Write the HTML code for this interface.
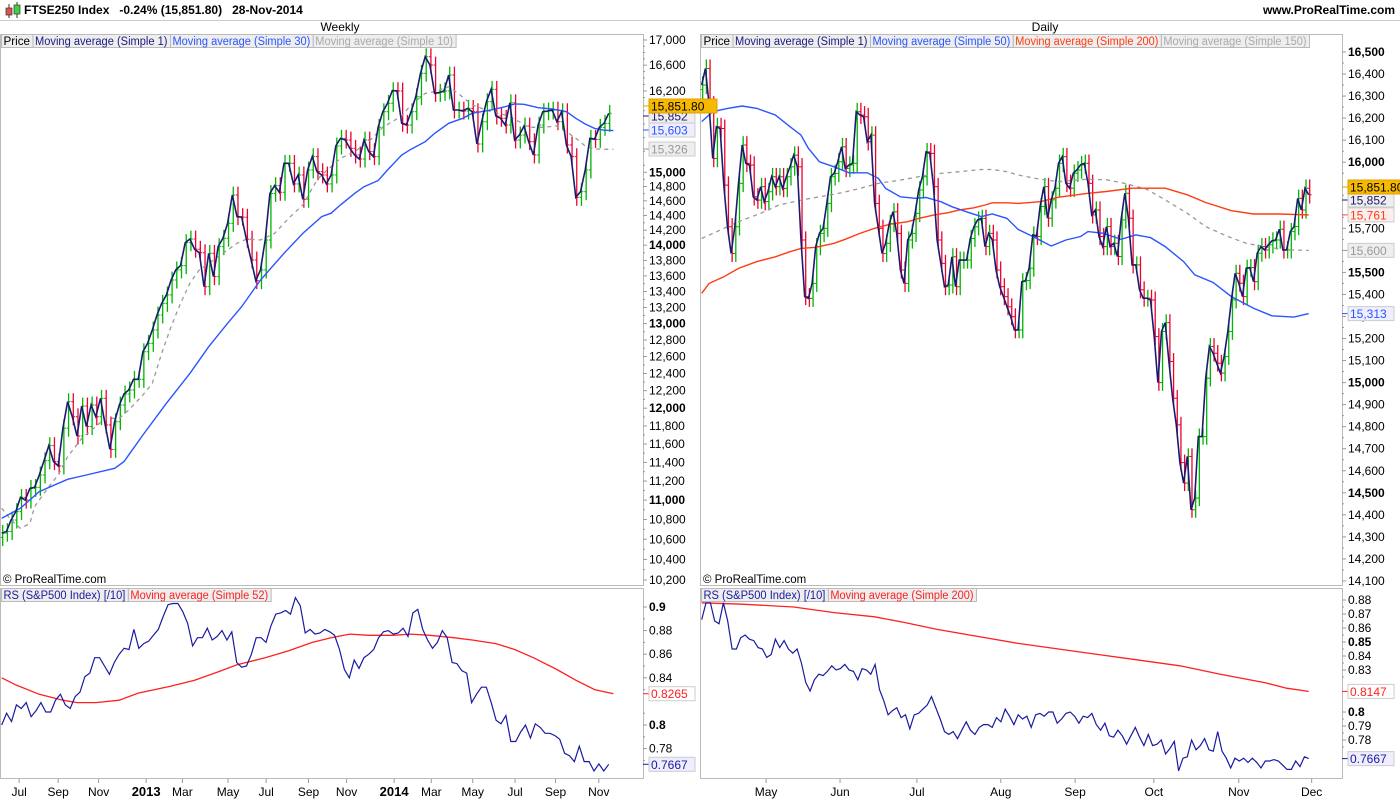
<!DOCTYPE html>
<html><head><meta charset="utf-8"><style>
html,body{margin:0;padding:0;background:#fff;}
body{width:1400px;height:800px;overflow:hidden;font-family:"Liberation Sans",Arial,sans-serif;}
svg text{font-family:"Liberation Sans",Arial,sans-serif;}
</style></head><body>
<svg id="c" width="1400" height="800" xmlns="http://www.w3.org/2000/svg">
<rect x="0" y="0" width="1400" height="800" fill="#fff"/>
<g>
<line x1="9" y1="4" x2="9" y2="18" stroke="#333" stroke-width="1"/><rect x="6" y="8" width="6" height="7" fill="#e05050" stroke="#333" stroke-width="0.7"/>
<line x1="17" y1="2" x2="17" y2="18" stroke="#333" stroke-width="1"/><rect x="14" y="5" width="6" height="9" fill="#40d040" stroke="#333" stroke-width="0.7"/>
<text x="24" y="14" font-size="12" font-weight="bold" fill="#000">FTSE250 Index&#160;&#160;&#160;-0.24% (15,851.80)&#160;&#160;&#160;28-Nov-2014</text>
<text x="1395" y="14" font-size="12" font-weight="bold" text-anchor="end" fill="#000">www.ProRealTime.com</text>
<line x1="0" y1="20.5" x2="1400" y2="20.5" stroke="#ccc"/>
<text x="340" y="31" font-size="12" text-anchor="middle" fill="#000">Weekly</text>
<text x="1045" y="31" font-size="12" text-anchor="middle" fill="#000">Daily</text>
</g>
</svg>
<script>
// ===== Weekly data =====
const weeklyClose=[10661,10678,10795,10881,11029,11001,11123,11134,11265,11418,11582,11408,11361,11775,12074,11903,11688,12024,11793,12036,11903,12112,11811,11541,11847,12036,12162,12208,12332,12332,12658,12759,12921,13106,13251,13357,13547,13677,13733,14034,14082,13947,13901,13461,13893,13590,13981,14092,14293,14681,14384,14376,14080,13806,13539,13677,14069,14703,14812,14719,15128,15128,14836,14962,14622,15033,15224,15009,14962,14836,14962,15378,15490,15465,15344,15248,15190,15465,15296,15224,15652,15885,16012,16205,16200,15711,15686,15885,16113,16473,16733,16602,16163,16178,16200,16446,15910,15910,15895,15935,15885,15407,15735,16036,16225,15820,15786,15686,16020,15465,15538,15672,15441,15248,15686,15885,15895,15910,15735,15885,15393,15224,14649,14727,15033,15490,15475,15652,15711,15861];
const weeklyMa30=[[0,10814],[4,10916],[8,11089],[14,11219],[18,11265],[24,11336],[26,11408],[30,11699],[35,12055],[40,12401],[44,12719],[48,13003],[51,13210],[55,13547],[60,13893],[64,14157],[68,14384],[70,14430],[72,14544],[75,14703],[77,14797],[80,14882],[82,15033],[85,15248],[87,15331],[90,15441],[92,15563],[95,15711],[98,15786],[100,15861],[104,15910],[107,15961],[109,16002],[111,15997],[114,15946],[117,15925],[120,15885],[122,15786],[124,15701],[126,15636],[128,15610],[130,15603]];
const weeklyMa10=[[0,10916],[2,10795],[4,10710],[6,10761],[7,10933],[10,11140],[12,11265],[14,11461],[17,11662],[20,11793],[22,11885],[25,11885],[27,11979],[30,12150],[32,12286],[34,12640],[36,12963],[38,13251],[40,13505],[42,13677],[45,13806],[50,14025],[52,14080],[55,14069],[58,14157],[61,14362],[64,14544],[67,14891],[68,14962],[70,15081],[72,15200],[75,15296],[78,15441],[81,15652],[85,15820],[87,15987],[90,16163],[92,16189],[94,16240],[95,16266],[97,16163],[100,15987],[102,15935],[104,15885],[107,15835],[110,15735],[112,15652],[115,15652],[118,15672],[120,15589],[122,15490],[124,15378],[126,15334],[130,15329]];
const weeklyRS=[0.800,0.810,0.803,0.817,0.814,0.819,0.807,0.812,0.819,0.811,0.811,0.821,0.826,0.817,0.814,0.824,0.828,0.841,0.844,0.857,0.857,0.850,0.843,0.853,0.860,0.865,0.864,0.881,0.865,0.869,0.871,0.876,0.881,0.892,0.902,0.903,0.903,0.896,0.886,0.867,0.874,0.874,0.882,0.872,0.875,0.880,0.872,0.879,0.853,0.849,0.850,0.860,0.874,0.874,0.870,0.884,0.894,0.895,0.897,0.894,0.908,0.901,0.878,0.881,0.877,0.878,0.881,0.879,0.876,0.864,0.847,0.840,0.855,0.848,0.857,0.860,0.864,0.874,0.879,0.880,0.877,0.878,0.882,0.875,0.895,0.898,0.881,0.872,0.865,0.870,0.880,0.874,0.853,0.852,0.846,0.844,0.819,0.826,0.832,0.832,0.819,0.804,0.801,0.808,0.786,0.786,0.794,0.800,0.789,0.801,0.798,0.793,0.793,0.791,0.788,0.776,0.774,0.769,0.782,0.769,0.769,0.761,0.767,0.761,0.7667];
const weeklyRSMa=[[0,0.840],[3,0.834],[8,0.826],[13,0.821],[16,0.819],[20,0.819],[25,0.821],[29,0.827],[36,0.833],[41,0.838],[46,0.845],[50,0.851],[56,0.857],[61,0.863],[66,0.870],[70,0.874],[74,0.877],[78,0.876],[83,0.876],[87,0.877],[91,0.876],[96,0.874],[100,0.872],[105,0.869],[109,0.864],[113,0.857],[118,0.847],[122,0.838],[126,0.830],[130,0.8265]];
const weeklyTickLabels=["Jul","Sep","Nov","2013","Mar","May","Jul","Sep","Nov","2014","Mar","May","Jul","Sep","Nov"];
const weeklyTickIdx=[3.7,12,20.6,30.7,38.4,48.1,56.2,65.2,73.3,83.4,91.3,100.1,109.1,117.7,126.9];
// ===== Daily data =====
const dailyClose=[16350,16425,16259,16017,16161,16153,15896,15707,15586,15707,15904,16078,15995,15987,15843,15828,15889,15821,15866,15934,15889,15934,15881,15934,15979,16032,15979,15647,15390,15382,15450,15617,15677,15700,15813,15934,15949,16002,16070,15972,15987,15995,16229,16214,16206,16093,16123,15813,15700,15586,15632,15722,15775,15677,15511,15450,15647,15677,15768,15874,15934,16047,16040,15889,15647,15541,15435,15443,15571,15435,15556,15556,15556,15654,15707,15738,15745,15617,15677,15647,15511,15435,15390,15344,15299,15239,15239,15458,15463,15519,15670,15663,15799,15889,15746,15829,15882,15995,16025,15904,15882,15950,15965,15988,15995,15904,15761,15783,15663,15617,15708,15617,15632,15572,15738,15859,15746,15534,15534,15421,15383,15383,15375,15209,15000,15232,15272,15096,14929,14808,14637,14544,14665,14423,14476,14755,14755,15020,15164,15133,15088,15043,15118,15232,15375,15496,15451,15390,15519,15522,15458,15587,15617,15602,15625,15643,15647,15696,15602,15602,15685,15708,15836,15783,15882,15852];
const dailyMa50=[[0,16184],[3,16229],[7,16244],[11,16255],[15,16244],[20,16214],[24,16161],[27,16123],[29,16063],[32,16002],[36,15979],[40,15952],[45,15952],[48,15927],[50,15881],[54,15843],[58,15836],[61,15840],[65,15821],[68,15798],[72,15775],[76,15753],[79,15765],[83,15745],[86,15695],[90,15663],[95,15620],[99,15647],[103,15663],[105,15685],[109,15678],[114,15650],[118,15670],[122,15658],[126,15617],[131,15549],[134,15489],[139,15454],[144,15390],[150,15337],[155,15303],[161,15297],[165,15313]];
const dailyMa200=[[0,15405],[2,15450],[6,15480],[10,15518],[15,15549],[20,15571],[24,15594],[27,15609],[31,15614],[36,15632],[39,15650],[43,15677],[47,15700],[51,15718],[56,15730],[59,15745],[63,15760],[67,15771],[70,15783],[74,15793],[77,15806],[79,15816],[83,15816],[86,15813],[92,15821],[97,15841],[105,15859],[110,15867],[117,15882],[126,15882],[132,15852],[137,15817],[144,15780],[150,15765],[157,15765],[165,15761]];
const dailyMa150=[[0,15654],[5,15692],[10,15730],[16,15768],[21,15806],[27,15828],[32,15843],[38,15861],[43,15881],[48,15904],[54,15919],[59,15934],[65,15949],[70,15957],[76,15967],[79,15967],[83,15957],[86,15942],[92,15923],[97,15912],[105,15923],[110,15920],[115,15904],[121,15877],[126,15829],[132,15768],[137,15708],[143,15663],[148,15632],[154,15614],[159,15602],[165,15600]];
const dailyRS=[0.866,0.878,0.878,0.865,0.863,0.878,0.865,0.845,0.845,0.853,0.855,0.852,0.851,0.846,0.845,0.839,0.841,0.852,0.846,0.851,0.845,0.842,0.845,0.835,0.821,0.815,0.823,0.827,0.826,0.829,0.833,0.830,0.831,0.834,0.830,0.829,0.823,0.831,0.830,0.827,0.834,0.816,0.808,0.798,0.801,0.803,0.796,0.798,0.788,0.798,0.799,0.802,0.805,0.811,0.803,0.795,0.786,0.784,0.786,0.781,0.787,0.793,0.787,0.784,0.789,0.791,0.791,0.789,0.796,0.793,0.802,0.797,0.791,0.798,0.795,0.797,0.789,0.798,0.799,0.797,0.800,0.800,0.792,0.795,0.799,0.800,0.797,0.792,0.797,0.796,0.799,0.791,0.787,0.792,0.783,0.782,0.787,0.783,0.777,0.783,0.789,0.782,0.776,0.784,0.776,0.777,0.780,0.770,0.774,0.779,0.758,0.767,0.768,0.780,0.773,0.776,0.781,0.773,0.772,0.786,0.772,0.767,0.760,0.767,0.765,0.767,0.764,0.767,0.764,0.760,0.765,0.765,0.766,0.765,0.762,0.759,0.759,0.765,0.761,0.768,0.7667];
const dailyRSMa=[[0,0.878],[11,0.877],[25,0.875],[36,0.871],[47,0.868],[55,0.864],[64,0.859],[75,0.854],[86,0.849],[97,0.845],[108,0.841],[119,0.837],[130,0.833],[141,0.827],[153,0.821],[159,0.817],[165,0.8147]];
const dailyTickLabels=["May","Jun","Jul","Aug","Sep","Oct","Nov","Dec"];
const dailyTickIdx=[17.5,37.6,58.5,81.3,101.5,122.9,146,165.8];
// price axis tick values
const weeklyPriceTicks=[17000,16600,16200,15000,14800,14600,14400,14200,14000,13800,13600,13400,13200,13000,12800,12600,12400,12200,12000,11800,11600,11400,11200,11000,10800,10600,10400,10200];
const dailyPriceTicks=[16500,16400,16300,16200,16100,16000,15700,15500,15400,15300,15200,15100,15000,14900,14800,14700,14600,14500,14400,14300,14200,14100];
const weeklyRSTicks=[0.9,0.88,0.86,0.84,0.8,0.78];
const dailyRSTicks=[0.88,0.87,0.86,0.85,0.84,0.83,0.8,0.79,0.78];

const NS="http://www.w3.org/2000/svg";
const svg=document.getElementById('c');
function mk(tag,attrs,parent){const e=document.createElementNS(NS,tag);for(const k in attrs)e.setAttribute(k,attrs[k]);(parent||svg).appendChild(e);return e;}
function fmt(p){return p.toLocaleString('en-US');}

const LX0=1.7,LX1=608.7,RX0=701.7,RX1=1308.7;
function xW(i,n){return LX0+i*(LX1-LX0)/(n-1);}
function xD(i,n){return RX0+i*(RX1-RX0)/(n-1);}
function yWP(p){return 40+1057*Math.log(17000/p);}
function yDP(p){return 52+(16500-p)*0.2204;}
function yWR(v){return 607+(0.9-v)*1180;}
function yDR(v){return 600+(0.88-v)*1400;}

const defs=mk('defs',{});
[['cWP',0,34,643,551],['cDP',700,34,642,551],['cWR',0,588,643,190],['cDR',700,588,642,190]].forEach(c=>{const cp=mk('clipPath',{id:c[0]},defs);mk('rect',{x:c[1],y:c[2],width:c[3],height:c[4]},cp);});

function frame(x,y,w,h,name){const r=mk('rect',{x:x+0.5,y:y+0.5,width:w,height:h,fill:'none',stroke:'#bbb'});}
frame(0,34,643,551,'weekly-price-panel');frame(700,34,642,551,'daily-price-panel');
frame(0,588,643,190,'weekly-rs-panel');frame(700,588,642,190,'daily-rs-panel');

function yAxis(ticks,yf,x0,fmtF,boldF,name,minor){
  const g=mk('g',{});
  ticks.forEach(t=>{const y=yf(t);mk('line',{x1:x0,y1:y,x2:x0+4,y2:y,stroke:'#999'},g);
    const tx=mk('text',{x:x0+6,y:y+4,'font-size':12,fill:'#000','font-weight':boldF(t)?'bold':'normal'},g);tx.textContent=fmtF(t);});
  if(minor)minor.forEach(t=>{const y=yf(t);mk('line',{x1:x0,y1:y,x2:x0+2,y2:y,stroke:'#999'},g);});
}
const wMinor=[16800,16400];for(let p=10300;p<17000;p+=200)wMinor.push(p);
yAxis(weeklyPriceTicks,yWP,643,fmt,t=>t%1000===0&&t!==17000,'weekly-price-axis',wMinor);
const dMinor=[];for(let p=14150;p<16500;p+=100)dMinor.push(p);
yAxis(dailyPriceTicks,yDP,1342,fmt,t=>t%500===0,'daily-price-axis',dMinor);
yAxis(weeklyRSTicks,yWR,643,t=>String(t),t=>t===0.9||t===0.8,'weekly-rs-axis',[0.89,0.87,0.85,0.83,0.81,0.79,0.77]);
yAxis(dailyRSTicks,yDR,1342,t=>String(t),t=>t===0.85||t===0.8,'daily-rs-axis',[0.875,0.865,0.855,0.845,0.835,0.825,0.795,0.785,0.775]);

function xAxis(labels,idx,xf,n,name){const g=mk('g',{});
  labels.forEach((l,i)=>{const x=xf(idx[i],n);mk('line',{x1:x,y1:779,x2:x,y2:783,stroke:'#999'},g);
    const bold=/^\d{4}$/.test(l);const t=mk('text',{x:x,y:796,'font-size':bold?13:12,'font-weight':bold?'bold':'normal','text-anchor':'middle',fill:'#000'},g);t.textContent=l;});}
xAxis(weeklyTickLabels,weeklyTickIdx,xW,weeklyClose.length,'weekly-x-axis');
xAxis(dailyTickLabels,dailyTickIdx,xD,dailyClose.length,'daily-x-axis');

function bars(data,xf,yf,frac,clip,name){const g=mk('g',{'clip-path':'url(#'+clip+')'});
  const n=data.length;
  for(let i=0;i<n;i++){const c=data[i],o=i>0?data[i-1]:c*(1-frac/2);const up=c>=o;const col=up?'#00b400':'#ee0030';
    const hi=Math.max(o,c)*(1+frac),lo=Math.min(o,c)*(1-frac);const x=xf(i,n)+1;
    const b=mk('line',{x1:x,y1:yf(hi),x2:x,y2:yf(lo),stroke:col,'stroke-width':1.3},g);
    
    mk('line',{x1:x-2,y1:yf(o),x2:x,y2:yf(o),stroke:col,'stroke-width':1},g);
    mk('line',{x1:x,y1:yf(c),x2:x+2,y2:yf(c),stroke:col,'stroke-width':1},g);}}
bars(weeklyClose,xW,yWP,0.008,'cWP','weekly-price-bars');
bars(dailyClose,xD,yDP,0.0025,'cDP','daily-price-bars');

function line(data,xf,yf,n,style,clip,name){const pts=data.map((d,i)=>Array.isArray(d)?[xf(d[0],n),yf(d[1])]:[xf(i,n),yf(d)]);
  const p=mk('polyline',Object.assign({points:pts.map(q=>q[0].toFixed(1)+','+q[1].toFixed(1)).join(' '),fill:'none','clip-path':'url(#'+clip+')'},style));
  }
const nW=weeklyClose.length,nD=dailyClose.length;
line(weeklyMa10,xW,yWP,nW,{stroke:'#999','stroke-width':1.3,'stroke-dasharray':'4,4'},'cWP','weekly-ma10-line');
line(weeklyMa30,xW,yWP,nW,{stroke:'#2b55ff','stroke-width':1.4},'cWP','weekly-ma30-line');
line(weeklyClose,xW,yWP,nW,{stroke:'#1a1a70','stroke-width':1.6},'cWP','weekly-close-line');
line(dailyMa150,xD,yDP,nD,{stroke:'#999','stroke-width':1.3,'stroke-dasharray':'4,4'},'cDP','daily-ma150-line');
line(dailyMa200,xD,yDP,nD,{stroke:'#ff3c10','stroke-width':1.4},'cDP','daily-ma200-line');
line(dailyMa50,xD,yDP,nD,{stroke:'#2b55ff','stroke-width':1.4},'cDP','daily-ma50-line');
line(dailyClose,xD,yDP,nD,{stroke:'#1a1a70','stroke-width':1.6},'cDP','daily-close-line');
line(weeklyRSMa,xW,yWR,nW,{stroke:'#ff2020','stroke-width':1.3},'cWR','weekly-rs-ma-line');
line(weeklyRS,(i)=>xW(i,weeklyRS.length),yWR,weeklyRS.length,{stroke:'#1a1aa0','stroke-width':1.2},'cWR','weekly-rs-line');
line(dailyRSMa,xD,yDR,nD,{stroke:'#ff2020','stroke-width':1.3},'cDR','daily-rs-ma-line');
line(dailyRS,(i)=>xD(i,dailyRS.length),yDR,dailyRS.length,{stroke:'#1a1aa0','stroke-width':1.2},'cDR','daily-rs-line');

function tag(x,y,txt,fg,bg,bd,name,w){const g=mk('g',{});
  mk('line',{x1:x-6,y1:y,x2:x,y2:y,stroke:bd==='#ccc'?fg:bd},g);
  mk('rect',{x:x,y:y-7,width:w||(txt.length*7+4),height:14,fill:bg,stroke:bd},g);
  const t=mk('text',{x:x+2,y:y+4.5,'font-size':12,fill:fg},g);t.textContent=txt;}
tag(649,149,'15,326','#999','#eee','#ccc','weekly-ma10-tag');
tag(649,130,'15,603','#2b55ff','#eef','#ccc','weekly-ma30-tag');
tag(649,116,'15,852','#1a1a70','#eee','#ccc','weekly-ma1-tag');
tag(649,106,'15,851.80','#000','#f6b900','#e0a000','weekly-last-price-tag',68);
tag(1348,yDP(15600),'15,600','#999','#eee','#ccc','daily-ma150-tag');
tag(1348,yDP(15313),'15,313','#2b55ff','#eef','#ccc','daily-ma50-tag');
tag(1348,yDP(15761),'15,761','#ff3c10','#fee','#ccc','daily-ma200-tag');
tag(1348,200,'15,852','#1a1a70','#eee','#ccc','daily-ma1-tag');
tag(1348,187,'15,851.80','#000','#f6b900','#e0a000','daily-last-price-tag',52);
tag(649,yWR(0.8265),'0.8265','#ff2020','#fff','#ccc','weekly-rs-ma-tag');
tag(649,yWR(0.7667),'0.7667','#1a1aa0','#eef','#ccc','weekly-rs-tag');
tag(1348,yDR(0.8147),'0.8147','#ff2020','#fff','#ccc','daily-rs-ma-tag');
tag(1348,yDR(0.7667),'0.7667','#1a1aa0','#eef','#ccc','daily-rs-tag');

function legend(x,y,items,name){const g=mk('g',{});
  let cx=x;items.forEach(it=>{const w=it[0].length*5.3+5;
    const r=mk('rect',{x:cx+0.5,y:y+0.5,width:w,height:13,fill:'#eee',stroke:'#bbb'},g);
    
    const t=mk('text',{x:cx+2.5,y:y+11,'font-size':11.5,fill:it[1],textLength:it[0].length*5.3,lengthAdjust:'spacingAndGlyphs'},g);t.textContent=it[0];cx+=w;});}
legend(1,34,[['Price','#000'],['Moving average (Simple 1)','#1a1a80'],['Moving average (Simple 30)','#2b55ff'],['Moving average (Simple 10)','#aaa']],'weekly-legend');
legend(701,34,[['Price','#000'],['Moving average (Simple 1)','#1a1a80'],['Moving average (Simple 50)','#2b55ff'],['Moving average (Simple 200)','#ff3c10'],['Moving average (Simple 150)','#aaa']],'daily-legend');
legend(1,588,[['RS (S&P500 Index) [/10]','#1a1aa0'],['Moving average (Simple 52)','#ff2020']],'weekly-rs-legend');
legend(701,588,[['RS (S&P500 Index) [/10]','#1a1aa0'],['Moving average (Simple 200)','#ff2020']],'daily-rs-legend');

[[3,'weekly-copyright'],[703,'daily-copyright']].forEach(c=>{const t=mk('text',{x:c[0],y:583,'font-size':11.5,fill:'#000'});t.textContent='© ProRealTime.com';});
</script>
</body></html>
